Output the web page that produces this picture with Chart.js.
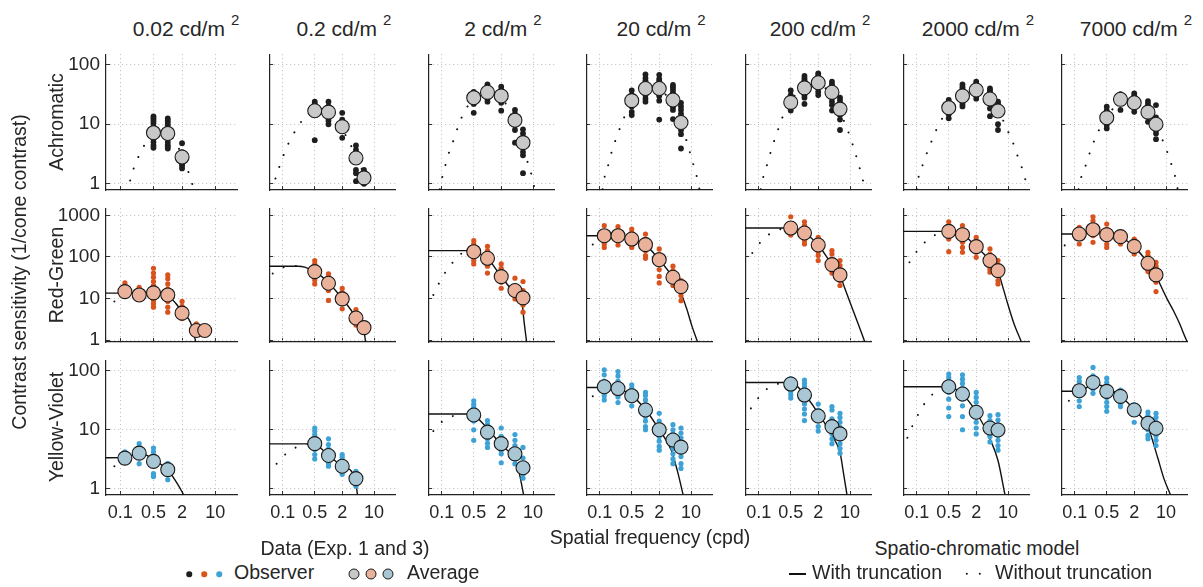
<!DOCTYPE html>
<html>
<head>
<meta charset="utf-8">
<script src="https://cdn.jsdelivr.net/npm/chart.js@4.4.1/dist/chart.umd.min.js"></script>
<style>
  body { margin: 0; background: #fff; }
  #fig { position: relative; width: 1203px; height: 587px; overflow: hidden;
         font-family: "Liberation Sans", Arial, sans-serif; color: #262626; }
  #fig canvas { position: absolute; }
  .txt { position: absolute; white-space: nowrap; line-height: 1; transform: translate(-50%, -50%); }
  .left { transform: translate(0, -50%); }
  .rot { transform: translate(-50%, -50%) rotate(-90deg); }
  .txt sup { font-size: 15px; position: relative; top: -6px; margin-left: 6px; vertical-align: top; }
  .mark { position: absolute; border-radius: 50%; transform: translate(-50%, -50%); box-sizing: border-box; }
</style>
</head>
<body>
<div id="fig"></div>
<script>
const luminances = ['0.02', '0.2', '2', '20', '200', '2000', '7000'];
const channels = ['Achromatic', 'Red-Green', 'Yellow-Violet'];
const xTicks = [0.1, 0.5, 2, 10];
const yTicksAch = [1, 10, 100];
const yTicksRG = [1, 10, 100, 1000];
const yTicksYV = [1, 10, 100];

// observer sensitivities, per luminance: [frequency, [values]]
const achObserver = [
  [[0.5, [13.5, 12.5, 11.5, 10.5, 9, 7.5, 5.7, 5, 4.4, 4]], [1, [12.5, 11.5, 10.5, 9.5, 8, 6, 5, 4.5, 4.2, 3.9]], [2, [4.8, 3.4, 3, 2.5, 2.2, 2, 1.8]]],
  [[0.5, [24, 22, 20, 18, 17, 16, 5.4]], [1, [24, 20, 17, 14, 11.5, 10]], [2, [15.6, 12, 10, 8, 5.9]], [4, [4.4, 3.7, 3.2, 1.7, 1.5, 1.1]], [6, [1.7, 1.1, 0.99]]],
  [[0.5, [35, 33, 29, 25, 22, 15.6]], [1, [47, 43, 38, 34, 31, 27, 24]], [2, [43, 38, 33, 28, 23, 16.9]], [4, [17.4, 15, 12.5, 11, 9.7, 8, 4.9]], [6, [8.2, 7, 5.7, 4.9, 4.2, 3.4, 3, 1.5]]],
  [[0.5, [37, 31, 26, 23, 20, 16.2, 14.3]], [1, [69, 60, 54, 49, 43, 38, 34, 31, 27, 24]], [2, [68, 58, 53, 48, 42, 37, 33, 30, 25, 12]], [4, [46, 42, 38, 34, 31, 27, 22, 19.5, 17.4, 12.2]], [6, [23, 20, 17.4, 15, 13.4, 11.5, 9.7, 8, 6.8, 3.9]]],
  [[0.5, [37, 31, 28, 26, 23, 21, 17]], [1, [65, 59, 55, 50, 45, 40, 35, 31, 28, 22]], [2, [72, 66, 60, 55, 50, 45, 40, 35, 31]], [4, [52, 47, 44, 40, 36, 32, 28, 24, 21, 17]], [6, [28, 25, 22, 19.5, 17.4, 14.3, 12, 8]]],
  [[0.5, [25.6, 23, 21, 19, 17.4, 14.8, 12.6]], [1, [47, 43, 40, 36, 33, 30, 27, 22, 20]], [2, [52, 48, 45, 41, 38, 35, 32, 27]], [4, [40, 37, 34, 31, 28, 25, 22, 18.5, 13.7]], [6, [24, 22, 20, 17.5, 15.2, 10, 8]]],
  [[0.5, [19.8, 17, 14.3, 11.8, 9.7, 8.5]], [1, [32, 29.5, 27.5, 25, 22.5, 17.4]], [2, [33, 30, 28, 26, 24, 21, 19, 16.2]], [4, [24.6, 22, 19.8, 18, 16.2, 14.5, 13.4, 11]], [6, [21, 13, 11, 9.7, 8, 7, 5.6]]]
];
const achAverage = [
  [[0.5, 7.2], [1, 7], [2, 2.8]],
  [[0.5, 16.9], [1, 16], [2, 9.1], [4, 2.7], [6, 1.25]],
  [[0.5, 28], [1, 34.5], [2, 30], [4, 11.7], [6, 4.9]],
  [[0.5, 25], [1, 40], [2, 40], [4, 25.6], [6, 10.7]],
  [[0.5, 23.4], [1, 41], [2, 50], [4, 34.5], [6, 18]],
  [[0.5, 19], [1, 30], [2, 37.8], [4, 26.6], [6, 16.7]],
  [[0.5, 12.9], [1, 26.3], [2, 23], [4, 16], [6, 10]]
];
const achNoTrunc = [
  [[0.14, 0.7], [0.17, 1.33], [0.21, 2.2], [0.28, 3.6], [0.385, 5.6], [0.55, 7.3], [0.8, 7.5], [1.15, 6.4], [1.6, 4.3], [2.2, 2.5], [2.7, 1.6], [3.3, 0.97], [3.8, 0.65]],
  [[0.06, 0.75], [0.071, 1.33], [0.09, 2.2], [0.113, 3.6], [0.15, 5.7], [0.21, 8.9], [0.31, 13.4], [0.5, 17.5], [0.8, 17.8], [1.2, 15], [1.6, 11], [2.3, 6.8], [3.1, 4.4], [4.3, 2.7], [5.6, 1.6], [7, 1.0], [8, 0.7]],
  [[0.09, 0.8], [0.103, 1.33], [0.123, 2.2], [0.15, 3.7], [0.19, 6], [0.236, 10], [0.31, 16], [0.5, 28], [0.85, 36], [1.37, 35], [2, 29], [3.1, 16.2], [4.5, 8], [6, 4.3], [7.7, 2.2], [9.4, 1.33], [11, 0.75]],
  [[0.115, 0.8], [0.13, 1.4], [0.16, 2.3], [0.19, 3.9], [0.24, 6.4], [0.3, 10.3], [0.4, 17], [0.6, 30], [1, 42], [1.55, 46], [2.56, 34], [4, 20], [5.5, 11], [8, 5.2], [9.7, 3.1], [11.7, 1.86], [13.9, 1.14], [15.5, 0.75]],
  [[0.11, 0.8], [0.126, 1.33], [0.155, 2.2], [0.187, 3.7], [0.23, 6], [0.29, 10], [0.37, 16.3], [0.6, 30], [0.95, 42], [1.33, 50], [2.4, 45], [4, 30], [5.5, 19], [7.1, 12], [9.1, 7.5], [11.3, 4.6], [13.9, 2.75], [16.8, 1.64], [20, 1.0], [23, 0.7]],
  [[0.1, 0.8], [0.11, 1.33], [0.139, 2.2], [0.176, 3.7], [0.226, 5.9], [0.295, 9.5], [0.6, 22], [1, 31], [1.7, 36], [2.7, 33], [4, 25], [5.5, 17.5], [7.2, 13], [9.5, 8.2], [12.5, 5.1], [15.7, 3.1], [20, 1.86], [24.4, 1.1], [28, 0.75]],
  [[0.12, 0.8], [0.14, 1.33], [0.18, 2.2], [0.22, 3.6], [0.28, 5.8], [0.38, 9.5], [0.55, 14.5], [0.83, 21.6], [1.5, 26], [2.7, 21.6], [4, 15], [5.5, 9.5], [8, 5.8], [10.2, 3.7], [12.8, 2.2], [15.7, 1.33], [18, 0.8]]
];

const rgObserver = [
  [[0.125, [23.8, 17, 12.2]], [0.25, [18.7, 14.2, 9.8]], [0.5, [53.5, 41, 32.6, 25.7, 20.6, 16.5, 11.8, 9, 7.5, 6.2]], [1, [37, 30, 22.5, 17, 11.8, 8.5, 6.2, 4.7]], [2, [8.5, 6.5, 3.9, 3.3]], [4, [2.47, 2.05, 1.6]]],
  [[0.5, [82, 68, 56, 44, 35, 28, 22.5]], [1, [39, 32.6, 25.7, 20.6, 15.6, 9]], [2, [17.7, 14, 11.8, 9.8, 5.65]], [4, [5.4, 4.3, 3, 2.3]], [6, [2.25, 1.87]]],
  [[0.5, [247, 205, 170, 134, 82, 68]], [1, [180, 142, 98, 74, 60, 41]], [2, [68, 53.5, 43, 32.6, 24.7, 17.7]], [4, [30.9, 20.6, 15.6, 11.8, 9.8]], [6, [25.7, 15.6, 9.8, 7, 4.7]]],
  [[0.125, [565, 390, 296, 205, 170]], [0.25, [535, 445, 325, 270, 194]], [0.5, [470, 390, 325, 225, 170]], [1, [356, 270, 194, 142, 108, 93]], [2, [156, 118, 89, 68, 50, 34, 23.7]], [4, [60, 47, 36, 25.7, 20.6]], [6, [27, 20.6, 15.6, 11.8, 8.9]]],
  [[0.5, [930, 620, 497, 405, 337]], [1, [705, 565, 428, 325, 247, 205]], [2, [296, 225, 170, 134, 108, 82]], [4, [142, 118, 89, 68, 53.5, 41]], [6, [82, 62, 47, 36, 27, 20.6]]],
  [[0.5, [705, 565, 428, 356, 270, 134]], [1, [565, 428, 325, 225, 170, 130]], [2, [296, 225, 170, 130, 98]], [4, [156, 118, 89, 68, 51, 43]], [6, [82, 62, 47, 36, 27, 22.5]]],
  [[0.125, [515, 428, 356, 280, 205]], [0.25, [930, 745, 586, 453, 325, 225]], [0.5, [620, 470, 356, 270, 205, 170]], [1, [390, 337, 296, 247, 205]], [2, [270, 225, 170, 142, 118]], [4, [130, 108, 82, 62, 44.5]], [6, [74, 60, 47, 36, 24.7, 14.7]]]
];
const rgAverage = [
  [[0.125, 14.7], [0.25, 12.2], [0.5, 13.7], [1, 12.2], [2, 4.45], [4, 1.7], [6, 1.7]],
  [[0.5, 44.5], [1, 23.3], [2, 9.8], [4, 3.4], [6, 2.0]],
  [[0.5, 134], [1, 93], [2, 33.7], [4, 15.6], [6, 10.4]],
  [[0.125, 325], [0.25, 325], [0.5, 270], [1, 198], [2, 86], [4, 32.5], [6, 19.4]],
  [[0.5, 497], [1, 377], [2, 194], [4, 65.5], [6, 37]],
  [[0.5, 413], [1, 344], [2, 177], [4, 82], [6, 47]],
  [[0.125, 356], [0.25, 453], [0.5, 344], [1, 308], [2, 180], [4, 70.5], [6, 37]]
];
const rgTrunc = [
  [[0.05, 13.5], [0.6, 13.5], [1, 11.5], [1.5, 7.5], [2, 4.6], [3, 2.7], [3.9, 0.9]],
  [[0.05, 60], [0.22, 60], [0.3, 57], [0.5, 45], [1, 24], [2, 10], [4, 3.6], [5.9, 1.87], [6.5, 0.9]],
  [[0.05, 142], [0.35, 142], [0.5, 135], [1, 92], [2, 34], [3.8, 14.2], [5.7, 7.9], [6.35, 2.7], [7.2, 0.9]],
  [[0.05, 325], [0.14, 325], [0.25, 320], [0.5, 275], [1, 195], [2, 86], [4, 32], [5.9, 14.2], [8, 5.65], [10.6, 2.05], [13.9, 0.9]],
  [[0.05, 497], [0.5, 497], [1, 380], [2, 195], [4, 66], [6, 37], [7.5, 18.7], [9.8, 8.5], [14.9, 2.5], [21, 0.9]],
  [[0.05, 413], [0.5, 413], [1, 350], [2, 178], [4, 82], [6, 45], [7.3, 22.5], [9.1, 9.8], [13.1, 2.7], [19.5, 0.9]],
  [[0.05, 356], [0.125, 358], [0.2, 380], [0.3, 385], [0.5, 350], [1, 300], [2, 175], [4, 72], [6, 37], [7.6, 20.5], [10.5, 9.8], [14.4, 5.15], [19.8, 2.47], [27, 1.08], [30, 0.85]]
];
const rgNoTrunc = [
  [[0.075, 8.5], [0.088, 9.8], [0.12, 12.5], [0.2, 13.5]],
  [[0.06, 40], [0.09, 53.5], [0.165, 60.5], [0.25, 60]],
  [[0.065, 12.2], [0.086, 23], [0.12, 43], [0.18, 77.6], [0.28, 125], [0.45, 142]],
  [[0.07, 200], [0.088, 256], [0.11, 300], [0.14, 325]],
  [[0.072, 125], [0.108, 225], [0.18, 370], [0.31, 470], [0.45, 497]],
  [[0.069, 74.5], [0.1, 137], [0.158, 238], [0.276, 356], [0.45, 413]],
  [[0.06, 190], [0.08, 247], [0.1, 300], [0.125, 350]]
];

const yvObserver = [
  [[0.125, [4.2, 3.7, 3.2, 2.8]], [0.25, [5.8, 4.9, 4, 2.65]], [0.5, [4.9, 4.2, 3.5, 2.8, 2.5, 1.8, 1.65, 1.6]], [1, [2.7, 2.4, 1.42]]],
  [[0.5, [10.7, 9.5, 8.3, 7.3, 6.5, 5.5, 4.6, 3.8, 3.2]], [1, [7, 5.6, 4.7, 3.2, 2.65, 2.4]], [2, [3.8, 3.4, 2.8, 2.4, 2, 1.75]], [4, [1.96, 1.3, 1.1]]],
  [[0.5, [31, 27, 24, 21, 18.5, 16.2, 14, 10, 6.6]], [1, [14.3, 12.3, 10, 8.3, 7, 5.9, 5]], [2, [10.7, 7.7, 6.6, 5.4, 4.5, 3.9, 2.75]], [4, [8.3, 6.6, 5.4, 4.5, 3.6, 3.2, 2.65]], [6, [5, 3.3, 2.65, 1.75, 1.5]]],
  [[0.125, [104, 85.5, 67, 53.7, 44.8, 37.8, 32]], [0.25, [97, 82, 67, 53.7, 43, 36, 29]], [0.5, [58, 51, 45, 38, 31, 25.5]], [1, [43, 38, 32, 27, 23.4, 19.8, 16.7, 14, 11.3, 10]], [2, [19, 14, 11.8, 10, 7.7, 6.4, 5.2, 4.5]], [4, [12.2, 10, 8.5, 7, 5.8, 4.8, 3.9, 3.2, 2.65]], [6, [10.7, 8.8, 7.3, 5.9, 4.9, 4.2, 3.5, 2.65, 2.2]]],
  [[0.5, [74, 66, 58, 51, 45, 39.3, 34.5]], [1, [69.5, 61, 53.7, 47, 40.4, 33, 27.3, 22.5, 18.5, 14.3]], [2, [27.3, 21.6, 17.3, 14, 11.3, 9.5]], [4, [24.6, 21.6, 15.3, 12.9, 10.7, 8.5, 7, 5.8]], [6, [19, 16.2, 13.4, 11, 9.1, 7.3, 5.8, 4.8, 4]]],
  [[0.5, [88, 77, 66, 58, 51, 43, 33, 23.4, 16.7]], [1, [85.5, 72, 61, 51, 41.5, 33, 25.5, 16.7, 10]], [2, [43, 35.4, 29.2, 24, 19.8, 16.3, 13.4, 10.7, 8.5]], [4, [17.3, 14.3, 11.8, 10, 7.7, 6.2]], [6, [18, 14.6, 12.2, 9.9, 8, 6.6, 5.4, 4.5]]],
  [[0.125, [77, 66, 55.7, 46, 38, 31, 24.7]], [0.25, [114, 82, 72, 59.5, 49, 41.5]], [0.5, [75, 63.5, 52.3, 43, 35.4, 29.2, 24.7, 20.5]], [1, [47.2, 40.4, 33, 28, 24.7]], [2, [26.6, 22.5, 18.5, 13.4]], [4, [20, 17.3, 14.3, 11.8, 10, 8, 7]], [6, [19, 16.2, 13.4, 11.3, 9.4, 8, 6.6, 5.4]]]
];
const yvAverage = [
  [[0.125, 3.3], [0.25, 4.0], [0.5, 2.9], [1, 2.1]],
  [[0.5, 5.8], [1, 3.65], [2, 2.4], [4, 1.48]],
  [[0.5, 17.8], [1, 9.1], [2, 5.8], [4, 3.9], [6, 2.26]],
  [[0.125, 53.7], [0.25, 50], [0.5, 37.8], [1, 21.6], [2, 10], [4, 6.7], [6, 5.06]],
  [[0.5, 59.6], [1, 38.8], [2, 17.1], [4, 11.3], [6, 8.5]],
  [[0.5, 53.7], [1, 40.4], [2, 19.8], [4, 10.7], [6, 9.9]],
  [[0.125, 45.9], [0.25, 63.5], [0.5, 44.8], [1, 36.8], [2, 21.6], [4, 12.9], [6, 10.6]]
];
const yvTrunc = [
  [[0.05, 3.35], [0.13, 3.4], [0.2, 3.8], [0.27, 4.0], [0.4, 3.5], [0.5, 3.1], [0.7, 2.6], [1, 2.1], [1.6, 1.2], [2.2, 0.77]],
  [[0.05, 5.75], [0.45, 5.75], [0.5, 5.7], [1, 3.7], [2, 2.4], [3.85, 1.48], [4.3, 0.8]],
  [[0.05, 18.5], [0.35, 18.5], [0.5, 17.5], [1, 10.5], [2, 5.5], [4, 3.1], [5, 1.8], [6.15, 0.8]],
  [[0.05, 52], [0.15, 52], [0.25, 50], [0.5, 38], [1, 22], [2, 10], [3.7, 4.45], [5, 2.0], [6.65, 0.8]],
  [[0.05, 63.5], [0.5, 63.5], [1, 40], [2, 19], [4, 8], [6.1, 3.9], [7, 2.04], [8.5, 0.8]],
  [[0.05, 53.7], [0.5, 53.7], [1, 40], [2, 20], [4, 7], [6, 3], [8.5, 0.8]],
  [[0.05, 45], [0.125, 45], [0.2, 54], [0.3, 58], [0.5, 52], [1, 37], [2, 22], [4, 11], [6.5, 3.4], [8.95, 1.48], [12.3, 0.8]]
];
const yvNoTrunc = [
  [[0.075, 2.4], [0.084, 2.65], [0.1, 3.0], [0.125, 3.3]],
  [[0.073, 2.65], [0.117, 3.9], [0.2, 5.06], [0.35, 5.7]],
  [[0.065, 9.5], [0.077, 11.3], [0.13, 15.6], [0.25, 18.3]],
  [[0.07, 37], [0.086, 43], [0.11, 50]],
  [[0.067, 23], [0.1, 35.4], [0.16, 51], [0.29, 61.9]],
  [[0.062, 7.3], [0.081, 11.9], [0.11, 19], [0.158, 30], [0.247, 43], [0.4, 53]],
  [[0.074, 31], [0.09, 38], [0.11, 43]]
];

const rows = [
  { obs: achObserver, avg: achAverage, trunc: null, noTrunc: achNoTrunc, yTicks: yTicksAch, yMin: 0.78, yMax: 152, dot: '#1e1e1e', fill: '#c8c8c8', r: 2.9 },
  { obs: rgObserver, avg: rgAverage, trunc: rgTrunc, noTrunc: rgNoTrunc, yTicks: yTicksRG, yMin: 0.9, yMax: 1500, dot: '#d9531e', fill: '#ebb29b', r: 2.6 },
  { obs: yvObserver, avg: yvAverage, trunc: yvTrunc, noTrunc: yvNoTrunc, yTicks: yTicksYV, yMin: 0.78, yMax: 152, dot: '#3fa2d6', fill: '#a8c6d4', r: 2.6 }
];

const fig = document.getElementById('fig');
const rowTop = [54, 208, 360];
const plotH = [136, 134, 135];
const plotW = 136;
const font = 'Liberation Sans';

const pts = list => list.map(([x, y]) => ({ x, y }));

function panel(r, c) {
  const row = rows[r];
  const left = Math.round(106 + 158.4 * c);
  const top = rowTop[r];
  const padL = c === 0 ? 75 : 3, padR = 4, padT = 8, padB = r === 2 ? 34 : 14;
  const w = plotW + padL + padR, h = plotH[r] + padT + padB;
  const cv = document.createElement('canvas');
  cv.width = w; cv.height = h;
  cv.style.left = (left - padL) + 'px';
  cv.style.top = (top - padT) + 'px';
  cv.style.width = w + 'px';
  cv.style.height = h + 'px';
  fig.appendChild(cv);

  const obsPts = [];
  row.obs[c].forEach(([f, vals]) => vals.forEach(v => obsPts.push({ x: f, y: v })));

  const datasets = [
    { data: pts(row.avg[c]), pointRadius: 7, backgroundColor: row.fill, borderColor: '#1a1a1a', borderWidth: 1.1, order: 0 },
    { data: obsPts, pointRadius: row.r, backgroundColor: row.dot, borderWidth: 0, order: 1 },
    { data: pts(row.noTrunc[c]), showLine: true, pointRadius: 0, borderColor: '#111', borderWidth: 2,
      borderDash: [0.01, 12.5], borderCapStyle: 'round', cubicInterpolationMode: 'monotone', capBezierPoints: false, order: 3 }
  ];
  if (row.trunc) {
    datasets.push({ data: pts(row.trunc[c]), showLine: true, pointRadius: 0, borderColor: '#111', borderWidth: 1.4,
      cubicInterpolationMode: 'monotone', capBezierPoints: false, order: 2 });
  }

  new Chart(cv, {
    type: 'scatter',
    data: { datasets },
    options: {
      responsive: false,
      animation: false,
      events: [],
      layout: { padding: { left: 0, right: padR, top: padT, bottom: 0 } },
      plugins: { legend: { display: false }, tooltip: { enabled: false } },
      scales: {
        x: {
          type: 'logarithmic', min: 0.05, max: 30,
          afterBuildTicks: s => { s.ticks = xTicks.map(v => ({ value: v })); },
          afterFit: s => { s.height = padB; s.paddingLeft = 0; s.paddingRight = 0; },
          ticks: { display: r === 2, autoSkip: false, maxRotation: 0, padding: 11,
                   color: '#262626', font: { family: font, size: 18 }, callback: v => String(v) },
          grid: { color: '#bdbdbd', lineWidth: 1, drawTicks: true, tickLength: -4,
                  tickColor: '#333', tickWidth: 1, tickBorderDash: [] },
          border: { display: true, color: '#222', width: 1.2, dash: [1, 3] }
        },
        y: {
          type: 'logarithmic', min: row.yMin, max: row.yMax,
          afterBuildTicks: s => { s.ticks = row.yTicks.map(v => ({ value: v })); },
          afterFit: s => { s.width = padL; s.paddingTop = 0; s.paddingBottom = 0; },
          ticks: { display: c === 0, autoSkip: false, padding: 10,
                   color: '#262626', font: { family: font, size: 19 }, callback: v => String(v) },
          grid: { color: '#bdbdbd', lineWidth: 1, drawTicks: true, tickLength: -4,
                  tickColor: '#333', tickWidth: 1, tickBorderDash: [] },
          border: { display: true, color: '#222', width: 1.2, dash: [1, 3] }
        }
      }
    }
  });
}

for (let r = 0; r < 3; r++) for (let c = 0; c < 7; c++) panel(r, c);

function text(html, x, y, size, cls) {
  const d = document.createElement('div');
  d.className = 'txt' + (cls ? ' ' + cls : '');
  d.style.left = x + 'px';
  d.style.top = y + 'px';
  d.style.fontSize = size + 'px';
  d.innerHTML = html;
  fig.appendChild(d);
}
function mark(x, y, d, fill, border) {
  const m = document.createElement('div');
  m.className = 'mark';
  m.style.left = x + 'px';
  m.style.top = y + 'px';
  m.style.width = d + 'px';
  m.style.height = d + 'px';
  m.style.background = fill;
  if (border) m.style.border = '1px solid ' + border;
  fig.appendChild(m);
}

luminances.forEach((l, c) => text(l + ' cd/m<sup>2</sup>', Math.round(106 + 158.4 * c) + 80, 28, 21));
const rowMid = [122, 275, 427];
channels.forEach((name, r) => text(name, 57, rowMid[r], 19.5, 'rot'));
text('Contrast sensitivity (1/cone contrast)', 20, 272, 19.5, 'rot');
text('Spatial frequency (cpd)', 650, 538, 19.5);

// legend: data
text('Data (Exp. 1 and 3)', 345, 549, 19.5);
[rows[0].dot, rows[1].dot, rows[2].dot].forEach((col, i) => mark(189 + 15 * i, 574, 5.5, col));
text('Observer', 234, 573, 19.5, 'left');
[rows[0].fill, rows[1].fill, rows[2].fill].forEach((col, i) => mark(354 + 17 * i, 574, 11, col, '#1a1a1a'));
text('Average', 407, 573, 19.5, 'left');

// legend: model
text('Spatio-chromatic model', 977, 549, 19.5);
const ln = document.createElement('div');
ln.style.cssText = 'position:absolute;left:789px;top:573px;width:17px;height:2px;background:#111;';
fig.appendChild(ln);
text('With truncation', 812, 573, 19.5, 'left');
mark(967, 574, 2.4, '#111');
mark(980, 574, 2.4, '#111');
text('Without truncation', 995, 573, 19.5, 'left');
</script>
</body>
</html>
